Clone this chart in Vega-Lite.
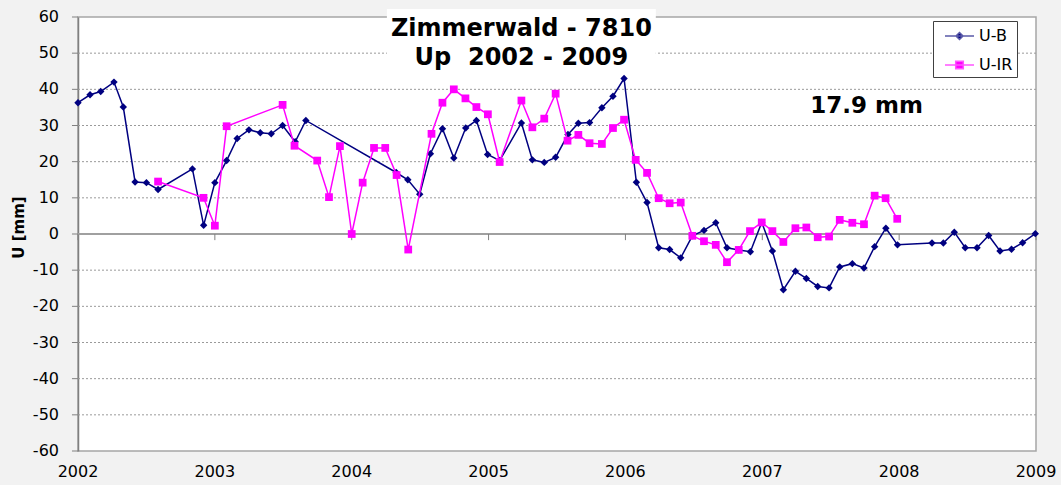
{
  "$schema": "https://vega.github.io/schema/vega-lite/v6.json",
  "width": 958,
  "height": 434,
  "autosize": {"type": "none"},
  "padding": {"left": 78, "top": 17, "right": 25, "bottom": 34},
  "background": "#f2f2f2",
  "config": {
    "view": {"fill": "white", "stroke": "#a6a6a6", "strokeWidth": 1.5},
    "font": "DejaVu Sans"
  },
  "datasets": {
    "series": [
      {"series": "U-B", "t": 2002.0, "u": 36.3},
      {"series": "U-B", "t": 2002.088, "u": 38.5},
      {"series": "U-B", "t": 2002.166, "u": 39.4},
      {"series": "U-B", "t": 2002.263, "u": 42.0},
      {"series": "U-B", "t": 2002.331, "u": 35.1},
      {"series": "U-B", "t": 2002.417, "u": 14.4},
      {"series": "U-B", "t": 2002.5, "u": 14.2},
      {"series": "U-B", "t": 2002.585, "u": 12.3},
      {"series": "U-B", "t": 2002.836, "u": 18.0},
      {"series": "U-B", "t": 2002.918, "u": 2.4},
      {"series": "U-B", "t": 2003.0, "u": 14.2},
      {"series": "U-B", "t": 2003.086, "u": 20.3},
      {"series": "U-B", "t": 2003.163, "u": 26.4},
      {"series": "U-B", "t": 2003.249, "u": 28.8},
      {"series": "U-B", "t": 2003.332, "u": 28.0},
      {"series": "U-B", "t": 2003.412, "u": 27.7},
      {"series": "U-B", "t": 2003.495, "u": 30.0},
      {"series": "U-B", "t": 2003.587, "u": 25.5},
      {"series": "U-B", "t": 2003.665, "u": 31.4},
      {"series": "U-B", "t": 2004.325, "u": 17.0},
      {"series": "U-B", "t": 2004.41, "u": 15.0},
      {"series": "U-B", "t": 2004.497, "u": 11.0},
      {"series": "U-B", "t": 2004.575, "u": 22.2},
      {"series": "U-B", "t": 2004.663, "u": 29.1},
      {"series": "U-B", "t": 2004.746, "u": 21.0},
      {"series": "U-B", "t": 2004.833, "u": 29.3},
      {"series": "U-B", "t": 2004.911, "u": 31.4},
      {"series": "U-B", "t": 2004.993, "u": 22.0},
      {"series": "U-B", "t": 2005.081, "u": 20.3},
      {"series": "U-B", "t": 2005.24, "u": 30.7},
      {"series": "U-B", "t": 2005.32, "u": 20.5},
      {"series": "U-B", "t": 2005.407, "u": 19.8},
      {"series": "U-B", "t": 2005.49, "u": 21.2},
      {"series": "U-B", "t": 2005.58, "u": 27.5},
      {"series": "U-B", "t": 2005.656, "u": 30.6},
      {"series": "U-B", "t": 2005.738, "u": 30.8},
      {"series": "U-B", "t": 2005.828, "u": 34.9},
      {"series": "U-B", "t": 2005.909, "u": 38.1},
      {"series": "U-B", "t": 2005.99, "u": 43.0},
      {"series": "U-B", "t": 2006.08, "u": 14.3},
      {"series": "U-B", "t": 2006.158, "u": 8.7},
      {"series": "U-B", "t": 2006.243, "u": -3.8},
      {"series": "U-B", "t": 2006.323, "u": -4.3},
      {"series": "U-B", "t": 2006.404, "u": -6.6},
      {"series": "U-B", "t": 2006.489, "u": -0.5},
      {"series": "U-B", "t": 2006.574, "u": 1.0},
      {"series": "U-B", "t": 2006.66, "u": 3.1},
      {"series": "U-B", "t": 2006.742, "u": -3.8},
      {"series": "U-B", "t": 2006.828, "u": -4.4},
      {"series": "U-B", "t": 2006.913, "u": -4.9},
      {"series": "U-B", "t": 2006.996, "u": 3.2},
      {"series": "U-B", "t": 2007.074, "u": -4.7},
      {"series": "U-B", "t": 2007.154, "u": -15.4},
      {"series": "U-B", "t": 2007.242, "u": -10.3},
      {"series": "U-B", "t": 2007.322, "u": -12.3},
      {"series": "U-B", "t": 2007.405, "u": -14.5},
      {"series": "U-B", "t": 2007.488, "u": -14.9},
      {"series": "U-B", "t": 2007.566, "u": -9.1},
      {"series": "U-B", "t": 2007.658, "u": -8.2},
      {"series": "U-B", "t": 2007.743, "u": -9.4},
      {"series": "U-B", "t": 2007.821, "u": -3.5},
      {"series": "U-B", "t": 2007.903, "u": 1.6},
      {"series": "U-B", "t": 2007.988, "u": -3.0},
      {"series": "U-B", "t": 2008.24, "u": -2.5},
      {"series": "U-B", "t": 2008.323, "u": -2.5},
      {"series": "U-B", "t": 2008.403, "u": 0.5},
      {"series": "U-B", "t": 2008.483, "u": -3.8},
      {"series": "U-B", "t": 2008.569, "u": -3.8},
      {"series": "U-B", "t": 2008.654, "u": -0.4},
      {"series": "U-B", "t": 2008.737, "u": -4.7},
      {"series": "U-B", "t": 2008.821, "u": -4.2},
      {"series": "U-B", "t": 2008.902, "u": -2.4},
      {"series": "U-B", "t": 2008.995, "u": 0.1},
      {"series": "U-IR", "t": 2002.585, "u": 14.5},
      {"series": "U-IR", "t": 2002.917, "u": 10.0},
      {"series": "U-IR", "t": 2003.0, "u": 2.3},
      {"series": "U-IR", "t": 2003.086, "u": 29.8},
      {"series": "U-IR", "t": 2003.495, "u": 35.7},
      {"series": "U-IR", "t": 2003.582, "u": 24.4},
      {"series": "U-IR", "t": 2003.748, "u": 20.3},
      {"series": "U-IR", "t": 2003.834, "u": 10.2},
      {"series": "U-IR", "t": 2003.914, "u": 24.3},
      {"series": "U-IR", "t": 2004.0, "u": 0.0},
      {"series": "U-IR", "t": 2004.08, "u": 14.2},
      {"series": "U-IR", "t": 2004.163, "u": 23.8},
      {"series": "U-IR", "t": 2004.245, "u": 23.8},
      {"series": "U-IR", "t": 2004.328, "u": 16.3},
      {"series": "U-IR", "t": 2004.413, "u": -4.3},
      {"series": "U-IR", "t": 2004.583, "u": 27.7},
      {"series": "U-IR", "t": 2004.663, "u": 36.3},
      {"series": "U-IR", "t": 2004.746, "u": 40.0},
      {"series": "U-IR", "t": 2004.831, "u": 37.5},
      {"series": "U-IR", "t": 2004.911, "u": 35.1},
      {"series": "U-IR", "t": 2004.995, "u": 33.1},
      {"series": "U-IR", "t": 2005.081, "u": 19.9},
      {"series": "U-IR", "t": 2005.24, "u": 36.9},
      {"series": "U-IR", "t": 2005.32, "u": 29.5},
      {"series": "U-IR", "t": 2005.407, "u": 31.9},
      {"series": "U-IR", "t": 2005.49, "u": 38.8},
      {"series": "U-IR", "t": 2005.577, "u": 25.8},
      {"series": "U-IR", "t": 2005.656, "u": 27.4},
      {"series": "U-IR", "t": 2005.738, "u": 25.1},
      {"series": "U-IR", "t": 2005.828, "u": 24.9},
      {"series": "U-IR", "t": 2005.909, "u": 29.3},
      {"series": "U-IR", "t": 2005.99, "u": 31.6},
      {"series": "U-IR", "t": 2006.075, "u": 20.5},
      {"series": "U-IR", "t": 2006.158, "u": 16.9},
      {"series": "U-IR", "t": 2006.243, "u": 9.9},
      {"series": "U-IR", "t": 2006.323, "u": 8.5},
      {"series": "U-IR", "t": 2006.404, "u": 8.7},
      {"series": "U-IR", "t": 2006.489, "u": -0.5},
      {"series": "U-IR", "t": 2006.574, "u": -2.0},
      {"series": "U-IR", "t": 2006.66, "u": -3.0},
      {"series": "U-IR", "t": 2006.742, "u": -7.8},
      {"series": "U-IR", "t": 2006.828, "u": -4.4},
      {"series": "U-IR", "t": 2006.91, "u": 0.8},
      {"series": "U-IR", "t": 2006.996, "u": 3.2},
      {"series": "U-IR", "t": 2007.074, "u": 0.8},
      {"series": "U-IR", "t": 2007.154, "u": -2.2},
      {"series": "U-IR", "t": 2007.242, "u": 1.6},
      {"series": "U-IR", "t": 2007.322, "u": 1.8},
      {"series": "U-IR", "t": 2007.405, "u": -0.9},
      {"series": "U-IR", "t": 2007.488, "u": -0.7},
      {"series": "U-IR", "t": 2007.566, "u": 3.9},
      {"series": "U-IR", "t": 2007.658, "u": 3.1},
      {"series": "U-IR", "t": 2007.743, "u": 2.7},
      {"series": "U-IR", "t": 2007.821, "u": 10.6},
      {"series": "U-IR", "t": 2007.901, "u": 9.9},
      {"series": "U-IR", "t": 2007.986, "u": 4.2}
    ],
    "years": [
      {"t": 2002, "label": "2002"}, {"t": 2003, "label": "2003"},
      {"t": 2004, "label": "2004"}, {"t": 2005, "label": "2005"},
      {"t": 2006, "label": "2006"}, {"t": 2007, "label": "2007"},
      {"t": 2008, "label": "2008"}, {"t": 2009, "label": "2009"}
    ],
    "ylevels": [
      {"u": -60, "label": "-60"}, {"u": -50, "label": "-50"}, {"u": -40, "label": "-40"},
      {"u": -30, "label": "-30"}, {"u": -20, "label": "-20"}, {"u": -10, "label": "-10"},
      {"u": 0, "label": "0"}, {"u": 10, "label": "10"}, {"u": 20, "label": "20"},
      {"u": 30, "label": "30"}, {"u": 40, "label": "40"}, {"u": 50, "label": "50"},
      {"u": 60, "label": "60"}
    ],
    "grid": [
      {"u": -50}, {"u": -40}, {"u": -30}, {"u": -20}, {"u": -10},
      {"u": 10}, {"u": 20}, {"u": 30}, {"u": 40}, {"u": 50}
    ],
    "one": [{"note": "annotation"}]
  },
  "layer": [
    {
      "data": {"name": "grid"},
      "mark": {"type": "rule", "color": "#9a9a9a", "strokeWidth": 1, "strokeDash": [2, 2]},
      "encoding": {
        "y": {
          "field": "u", "type": "quantitative", "title": "U [mm]",
          "scale": {"domain": [-60, 60], "nice": false, "zero": false},
          "axis": {
            "labels": false, "ticks": false, "grid": false,
            "domainColor": "#808080", "domainWidth": 1.5,
            "titleFont": "DejaVu Sans", "titleFontSize": 15, "titleFontWeight": "bold", "titleColor": "#000000",
            "titleX": -60, "titleY": 210, "titleAngle": 270, "titleBaseline": "middle", "titleAlign": "center"
          }
        }
      }
    },
    {
      "data": {"name": "ylevels"},
      "mark": {"type": "rule", "color": "#808080", "strokeWidth": 1},
      "encoding": {
        "x": {"datum": 2001.956, "type": "quantitative", "title": null, "scale": {"domain": [2002, 2009], "nice": false, "zero": false}, "axis": null},
        "x2": {"datum": 2002},
        "y": {"field": "u", "type": "quantitative", "title": "U [mm]"}
      }
    },
    {
      "data": {"name": "ylevels"},
      "mark": {"type": "text", "font": "DejaVu Sans", "fontSize": 16, "align": "right", "baseline": "middle", "dx": -19, "color": "#000000"},
      "encoding": {
        "x": {"datum": 2002, "type": "quantitative", "title": null},
        "y": {"field": "u", "type": "quantitative", "title": "U [mm]"},
        "text": {"field": "label", "type": "nominal"}
      }
    },
    {
      "data": {"name": "years"},
      "mark": {"type": "text", "font": "DejaVu Sans", "fontSize": 16, "align": "center", "baseline": "alphabetic", "dy": 26, "color": "#000000"},
      "encoding": {
        "x": {"field": "t", "type": "quantitative", "title": null},
        "y": {"datum": -60, "type": "quantitative", "title": "U [mm]"},
        "text": {"field": "label", "type": "nominal"}
      }
    },
    {
      "data": {"name": "one"},
      "mark": {"type": "rule", "color": "#a0a0a0", "strokeWidth": 2},
      "encoding": {
        "y": {"datum": 0, "type": "quantitative", "title": "U [mm]"}
      }
    },
    {
      "data": {"name": "years"},
      "mark": {"type": "rule", "color": "#808080", "strokeWidth": 1},
      "encoding": {
        "x": {"field": "t", "type": "quantitative", "title": null},
        "y": {"datum": 0, "type": "quantitative", "title": "U [mm]"},
        "y2": {"datum": -1.7}
      }
    },
    {
      "data": {"name": "series"},
      "transform": [{"filter": "datum.series === 'U-B'"}],
      "mark": {"type": "line", "strokeWidth": 1.5, "color": "#000080"},
      "encoding": {
        "x": {"field": "t", "type": "quantitative", "title": null},
        "y": {"field": "u", "type": "quantitative", "title": "U [mm]"}
      }
    },
    {
      "data": {"name": "series"},
      "transform": [{"filter": "datum.series === 'U-B'"}],
      "mark": {"type": "point", "shape": "diamond", "filled": true, "opacity": 1, "size": 55, "color": "#000080"},
      "encoding": {
        "x": {"field": "t", "type": "quantitative", "title": null},
        "y": {"field": "u", "type": "quantitative", "title": "U [mm]"}
      }
    },
    {
      "data": {"name": "series"},
      "transform": [{"filter": "datum.series === 'U-IR'"}],
      "mark": {"type": "line", "strokeWidth": 1.5, "color": "#ff00ff"},
      "encoding": {
        "x": {"field": "t", "type": "quantitative", "title": null},
        "y": {"field": "u", "type": "quantitative", "title": "U [mm]"}
      }
    },
    {
      "data": {"name": "series"},
      "transform": [{"filter": "datum.series === 'U-IR'"}],
      "mark": {"type": "point", "shape": "square", "filled": true, "opacity": 1, "size": 60, "color": "#ff00ff"},
      "encoding": {
        "x": {"field": "t", "type": "quantitative", "title": null},
        "y": {"field": "u", "type": "quantitative", "title": "U [mm]"}
      }
    },
    {
      "data": {"name": "series"},
      "transform": [{"filter": "datum.u > 1000"}],
      "mark": {"type": "point", "filled": true, "opacity": 1},
      "encoding": {
        "x": {"field": "t", "type": "quantitative", "title": null},
        "y": {"field": "u", "type": "quantitative", "title": "U [mm]"},
        "fill": {
          "field": "series", "type": "nominal",
          "scale": {"domain": ["U-B", "U-IR"], "range": ["#000080", "#ff00ff"]},
          "legend": {
            "orient": "none", "legendX": 855, "legendY": 4, "title": null,
            "padding": 4, "fillColor": "white", "strokeColor": "#404040",
            "symbolSize": 400, "symbolStrokeWidth": 1.5, "labelOffset": 20, "rowPadding": 10,
            "labelFont": "DejaVu Sans", "labelFontSize": 16, "labelColor": "#000000",
            "labelExpr": "datum.label + '\u2002\u00a0'"
          }
        },
        "stroke": {
          "field": "series", "type": "nominal",
          "scale": {"domain": ["U-B", "U-IR"], "range": ["#5a5aa8", "#ff55ff"]},
          "legend": {
            "orient": "none", "legendX": 855, "legendY": 4, "title": null,
            "padding": 4, "fillColor": "white", "strokeColor": "#404040",
            "symbolSize": 400, "symbolStrokeWidth": 1.5, "labelOffset": 20, "rowPadding": 10,
            "labelFont": "DejaVu Sans", "labelFontSize": 16, "labelColor": "#000000",
            "labelExpr": "datum.label + '\u2002\u00a0'"
          }
        },
        "shape": {
          "field": "series", "type": "nominal",
          "scale": {"domain": ["U-B", "U-IR"], "range": ["M-0.3,0H2.6M1.15,-0.35L1.5,0L1.15,0.35L0.8,0Z", "M-0.3,0H2.6M0.77,-0.38H1.53V0.38H0.77Z"]},
          "legend": {
            "orient": "none", "legendX": 855, "legendY": 4, "title": null,
            "padding": 4, "fillColor": "white", "strokeColor": "#404040",
            "symbolSize": 400, "symbolStrokeWidth": 1.5, "labelOffset": 20, "rowPadding": 10,
            "labelFont": "DejaVu Sans", "labelFontSize": 16, "labelColor": "#000000",
            "labelExpr": "datum.label + '\u2002\u00a0'"
          }
        }
      }
    },
    {
      "data": {"name": "one"},
      "mark": {"type": "rect", "fill": "white"},
      "encoding": {
        "x": {"datum": 2004.257, "type": "quantitative", "title": null},
        "x2": {"datum": 2006.222},
        "y": {"datum": 62.2, "type": "quantitative", "title": "U [mm]"},
        "y2": {"datum": 46}
      }
    },
    {
      "data": {"name": "one"},
      "mark": {"type": "text", "font": "DejaVu Sans", "fontSize": 24, "fontWeight": "bold", "lineHeight": 29, "baseline": "alphabetic", "align": "center", "color": "#000000"},
      "encoding": {
        "x": {"datum": 2005.24, "type": "quantitative", "title": null},
        "y": {"datum": 54.75, "type": "quantitative", "title": "U [mm]"},
        "text": {"value": ["Zimmerwald - 7810", "Up\u00a0 2002 - 2009"]}
      }
    },
    {
      "data": {"name": "one"},
      "mark": {"type": "text", "font": "DejaVu Sans", "fontSize": 23, "fontWeight": "bold", "baseline": "alphabetic", "align": "center", "color": "#000000"},
      "encoding": {
        "x": {"datum": 2007.763, "type": "quantitative", "title": null},
        "y": {"datum": 33.5, "type": "quantitative", "title": "U [mm]"},
        "text": {"value": "17.9 mm"}
      }
    }
  ]
}
